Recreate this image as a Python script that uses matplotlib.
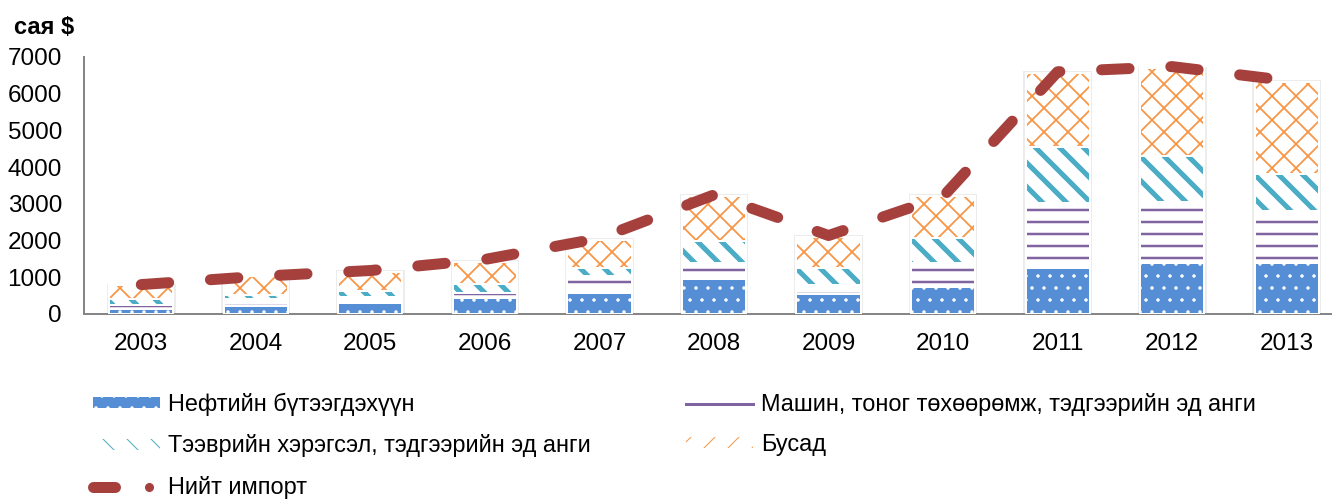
import numpy as np
import matplotlib
matplotlib.use('Agg')
import matplotlib.pyplot as plt
from matplotlib.lines import Line2D
from matplotlib.patches import Patch
from matplotlib.legend_handler import HandlerTuple

# imports by group, mln USD
years = ['2003', '2004', '2005', '2006', '2007', '2008', '2009', '2010', '2011', '2012', '2013']
petroleum = [140, 220, 300, 430, 580, 950, 545, 740, 1250, 1390, 1400]
machinery = [110, 180, 170, 140, 460, 450, 255, 660, 1770, 1660, 1400]
transport = [150, 110, 170, 250, 200, 600, 450, 670, 1540, 1250, 1000]
others = [380, 525, 510, 600, 780, 1215, 850, 1145, 2010, 2400, 2520]
total = [801, 1021, 1184, 1486, 2062, 3245, 2138, 3200, 6598, 6738, 6358]

names = ['Нефтийн бүтээгдэхүүн',
         'Машин, тоног төхөөрөмж, тэдгээрийн эд анги',
         'Тээврийн хэрэгсэл, тэдгээрийн эд анги',
         'Бусад',
         'Нийт импорт']

c_blue = '#558ED5'
c_purple = '#8064A2'
c_teal = '#4BACC6'
c_orange = '#F79646'
c_red = '#A5403D'

plt.rcParams['font.family'] = ['Liberation Sans', 'DejaVu Sans']

# dpi 72: one point is one pixel, hatch tiles are 72 px
W, H = 1332, 499
fig = plt.figure(figsize=(W/72, H/72), dpi=72)
ax = fig.add_axes([84/W, 185/H, 1248/W, 257/H])

x = np.arange(len(years))
w = 0.56


def stack(vals, bottom, face, hatch, hcolor, hlw):
    with plt.rc_context({'hatch.linewidth': hlw}):
        bars = ax.bar(x, vals, w, bottom=bottom, color=face, edgecolor=hcolor,
                      hatch=hatch, linewidth=0, zorder=2)
    for b in bars:
        if hasattr(b, 'set_hatch_linewidth'):
            b.set_hatch_linewidth(hlw)
    ax.bar(x, vals, w, bottom=bottom, fill=False, edgecolor='white',
           linewidth=2, zorder=3)
    return bars


b0 = np.zeros(len(x))
b1 = b0 + petroleum
b2 = b1 + machinery
b3 = b2 + transport
tops = b3 + others

# soft shadow behind the columns
ax.bar(x, tops + 40, w + 0.04, color='#ececec', linewidth=0, zorder=1)

stack(petroleum, b0, c_blue, '.', 'white', 1.0)
stack(machinery, b1, 'white', '-', c_purple, 2.5)
stack(transport, b2, 'white', '\\', c_teal, 5.0)
stack(others, b3, 'white', 'x', c_orange, 1.8)

ax.plot(x, total, color=c_red, lw=11, dashes=(2.5, 3.8),
        dash_capstyle='round', zorder=5)

ax.set_ylim(0, 7000)
ax.set_yticks(range(0, 7001, 1000))
ax.set_xlim(-0.5, 10.395)
ax.set_xticks(x)
ax.set_xticklabels(years)
for s in ['top', 'right']:
    ax.spines[s].set_visible(False)
for s in ['left', 'bottom']:
    ax.spines[s].set_color('#868686')
    ax.spines[s].set_linewidth(2)
ax.tick_params(axis='both', length=0, labelsize=24.3)
ax.tick_params(axis='y', pad=22)
ax.tick_params(axis='x', pad=19)

fig.text(14/W, 1 - 28/H, 'сая $', fontsize=23.6, fontweight='bold',
         va='center', ha='left')

# legend
with plt.rc_context({'hatch.linewidth': 1.0}):
    h_pet = Patch(facecolor=c_blue, edgecolor='white', hatch='.', linewidth=0)
with plt.rc_context({'hatch.linewidth': 4.0}):
    h_tr = Patch(facecolor='white', edgecolor=c_teal, hatch='\\', linewidth=0)
with plt.rc_context({'hatch.linewidth': 1.8}):
    h_oth = Patch(facecolor='white', edgecolor=c_orange, hatch='/', linewidth=0)
h_mach = Line2D([], [], color=c_purple, lw=3)
h_tot = (Line2D([], [], color=c_red, lw=11, solid_capstyle='round'),
         Line2D([], [], lw=0),
         Line2D([], [], color=c_red, lw=0, marker='o', markersize=8))

lprop = {'size': 23.5}
common = dict(frameon=False, prop=lprop, handlelength=2.85, handleheight=0.35,
              handletextpad=0.34, labelspacing=0.78, borderpad=0,
              borderaxespad=0, loc='upper left', bbox_transform=fig.transFigure,
              handler_map={tuple: HandlerTuple(ndivide=3, pad=0)})
leg1 = ax.legend([h_pet, h_tr, h_tot], [names[0], names[2], names[4]],
                 bbox_to_anchor=(93/W, 1 - 393/H), **common)
ax.add_artist(leg1)
ax.legend([h_mach, h_oth], [names[1], names[3]],
          bbox_to_anchor=(686/W, 1 - 393/H), **common)

fig.savefig('out.png', dpi=72)
